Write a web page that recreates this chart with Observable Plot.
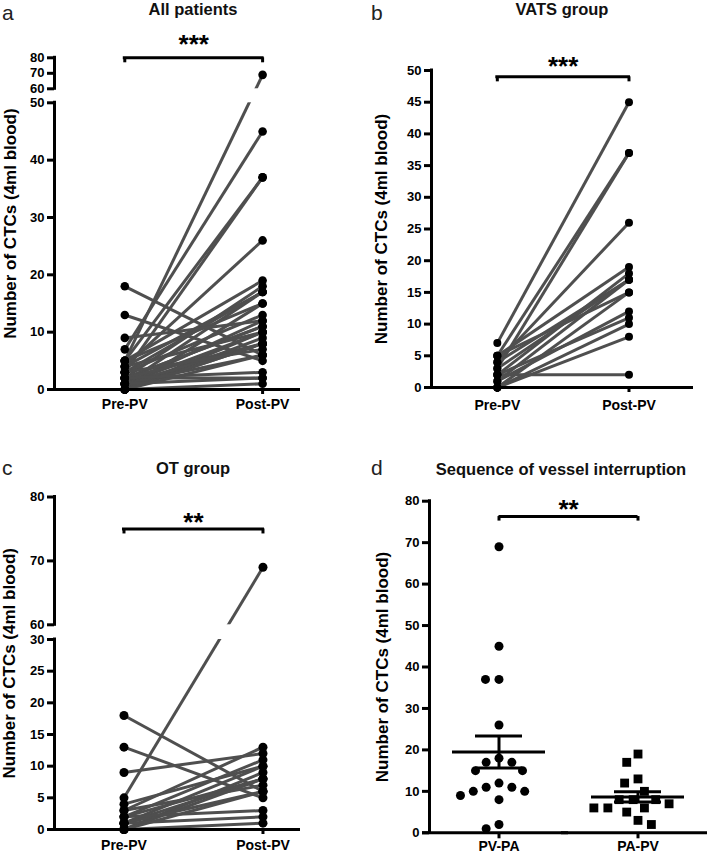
<!DOCTYPE html>
<html><head><meta charset="utf-8">
<script src="https://cdn.jsdelivr.net/npm/d3@7"></script>
<script src="https://cdn.jsdelivr.net/npm/@observablehq/plot@0.6"></script>
<style>
body{margin:0;background:#fff;font-family:"Liberation Sans",Arial,Helvetica,sans-serif;}
#root{position:relative;width:709px;height:855px;overflow:hidden;background:#fff;}
.panel{position:absolute;}
.letter{position:absolute;font-size:21px;line-height:1;color:#222;}
.title{position:absolute;font-size:16.5px;font-weight:bold;line-height:1;color:#111;transform:translateX(-50%);white-space:nowrap;}
</style></head><body><div id="root"></div>
<script>
// ---------- data ----------
const timeLabels = ["Pre-PV", "Post-PV"];
// VATS group (paired pre / post values)
const vatsPre  = [7, 5, 3, 4, 5, 2, 4, 1, 3, 5, 0, 1, 2, 0, 0, 2];
const vatsPost = [45, 37, 37, 26, 19, 18, 17, 17, 17, 15, 15, 12, 11, 10, 8, 2];
// OT group
const otPre  = [5, 18, 13, 9, 3, 4, 1, 2, 0, 2, 1, 0, 3, 1, 0, 2, 1, 0];
const otPost = [69, 6, 5, 12, 13, 10, 10, 11, 9, 8, 8, 8, 7, 6, 6, 3, 2, 1];
// All patients
const allPre  = vatsPre.concat(otPre);
const allPost = vatsPost.concat(otPost);
// Sequence of vessel interruption (post-PV counts)
const seqGroups = ["PV-PA", "PA-PV"];
const pvpaValues = [69, 45, 37, 37, 26, 18, 17, 17, 15, 15, 12, 11, 11, 10, 10, 9, 8, 2, 1];
const papvValues = [19, 17, 13, 12, 10, 8, 8, 8, 7, 6, 6, 6, 5, 3, 2];
const yLabel = "Number of CTCs (4ml blood)";
const titles = ["All patients", "VATS group", "OT group", "Sequence of vessel interruption"];
const letters = ["a", "b", "c", "d"];
const ticksA = [0, 10, 20, 30, 40, 50, 60, 70, 80];
const ticksB = [0, 5, 10, 15, 20, 25, 30, 35, 40, 45, 50];
const ticksC = [0, 5, 10, 15, 20, 25, 30, 60, 70, 80];
const ticksD = [0, 10, 20, 30, 40, 50, 60, 70, 80];

// ---------- styles ----------
const LINE = "#4f4f4f";
const FONT = '"Liberation Sans", Arial, Helvetica, sans-serif';
const baseStyle = {fontFamily: FONT, fontSize: "13px", fontWeight: "bold", color: "black", background: "transparent", overflow: "visible"};
const root = document.getElementById("root");

function put(node, left, top, w, h) {
  const div = document.createElement("div");
  div.className = "panel";
  div.style.left = left + "px"; div.style.top = top + "px";
  div.style.width = w + "px"; div.style.height = h + "px";
  div.appendChild(node);
  root.appendChild(div);
}

// broken-axis panels: T maps a value to its height (px) above the baseline, piecewise
function pairedPanel(c) {
  const T = d3.scaleLinear().domain(c.breaks).range(c.heights);
  const top = c.heights[c.heights.length - 1];
  const pairs = c.pre.map((p, i) => ({pre: p, post: c.post[i]}));
  const pts = pairs.flatMap(d => [{g: 0, v: d.pre}, {g: 1, v: d.post}]);
  const [x0, x1] = c.xDomain;
  const marks = [
    Plot.link(pairs, {x1: () => 0, x2: () => 1, y1: d => T(d.pre), y2: d => T(d.post), stroke: LINE, strokeWidth: 3})
  ];
  if (c.gap) marks.push(Plot.rect([c.gap], {x1: () => x0, x2: () => x1, y1: d => T(d[0]), y2: d => T(d[1]), fill: "white", insetLeft: 3}));
  marks.push(
    Plot.dot(pts, {x: "g", y: d => T(d.v), r: c.r, fill: "black"}),
    Plot.ruleY([0], {strokeWidth: 3, insetLeft: -7}),
    Plot.ruleX(c.segments, {x: () => x0, y1: d => T(d[0]), y2: d => T(d[1]), strokeWidth: 3, strokeLinecap: "square"}),
    Plot.axisY({ticks: c.ticks.map(T), tickFormat: u => String(Math.round(T.invert(u))), tickSize: 7, tickPadding: 3, strokeWidth: 3, label: null}),
    Plot.axisX({ticks: [0, 1], tickFormat: i => timeLabels[i], tickSize: 5, tickPadding: c.xPad, strokeWidth: 3, label: null, fontSize: 14}),
    Plot.ruleY([c.sig], {x1: () => 0, x2: () => 1, y: d => T(d.y), strokeWidth: 3, strokeLinecap: "square"}),
    Plot.ruleX([0, 1], {x: d => d, y1: () => T(c.sig.y), y2: () => T(c.sig.y) - 5, strokeWidth: 3}),
    Plot.text([c.sig], {x: () => 0.5, y: d => T(d.y), text: "label", fontSize: 26, fontWeight: "bold", dy: c.sig.dy}),
    Plot.text([yLabel], {frameAnchor: "left", text: d => d, rotate: -90, textAnchor: "middle", dx: c.labelDx, fontSize: 17, fontWeight: "bold"})
  );
  const svg = Plot.plot({
    width: c.width, height: c.height,
    marginLeft: c.mL, marginRight: c.mR, marginTop: c.height - c.mB - top, marginBottom: c.mB,
    x: {domain: c.xDomain},
    y: {domain: [0, top]},
    style: baseStyle,
    marks
  });
  put(svg, c.left, c.top, c.width, c.height);
}

pairedPanel({pre: allPre, post: allPost, left: 0, top: 0, width: 354, height: 430,
  mL: 54, mR: 54, mB: 41, xDomain: [-0.51, 1.275],
  breaks: [0, 50, 60, 80], heights: [0, 286.7, 300.7, 331.7],
  segments: [[0, 50], [60, 80]], gap: [50, 60], ticks: ticksA,
  sig: {y: 80, label: "***", dy: -13}, r: 4.3, labelDx: -44, xPad: 5});

pairedPanel({pre: vatsPre, post: vatsPost, left: 354, top: 0, width: 355, height: 430,
  mL: 77, mR: 16, mB: 43, xDomain: [-0.5, 1.49],
  breaks: [0, 50], heights: [0, 317],
  segments: [[0, 50]], gap: null, ticks: ticksB,
  sig: {y: 49, label: "***", dy: -10}, r: 4, labelDx: -50, xPad: 8});

pairedPanel({pre: otPre, post: otPost, left: 0, top: 430, width: 354, height: 425,
  mL: 54, mR: 54, mB: 26, xDomain: [-0.5, 1.27],
  breaks: [0, 30, 60, 80], heights: [0, 190, 204.7, 332.5],
  segments: [[0, 30], [60, 80]], gap: [30, 60], ticks: ticksC,
  sig: {y: 75, label: "**", dy: -6}, r: 4.5, labelDx: -45, xPad: 6});

// ---------- panel d ----------
const seqData = pvpaValues.map(v => ({g: seqGroups[0], v})).concat(papvValues.map(v => ({g: seqGroups[1], v})));
const stats = seqGroups.map(g => {
  const vals = seqData.filter(d => d.g === g).map(d => d.v);
  const m = d3.mean(vals), se = d3.deviation(vals) / Math.sqrt(vals.length);
  return {g, mean: m, lo: m - se, hi: m + se};
});
const sigD = {y: 76.3, drop: 1.1, label: "**", dy: -6.5};
const bracketHalves = [{g: seqGroups[0], a: 0, b: 1}, {g: seqGroups[1], a: -1, b: 0}];
const svgD = Plot.plot({
  width: 355, height: 425, marginLeft: 74, marginRight: 2, marginTop: 70.7, marginBottom: 22.7,
  fx: {domain: seqGroups, padding: 0, label: null},
  x: {domain: [-1, 1], axis: null},
  y: {domain: [0, 80]},
  style: baseStyle,
  marks: [
    Plot.ruleY([0], {strokeWidth: 3, insetLeft: -7}),
    Plot.dot(seqData.filter(d => d.g === seqGroups[0]), Plot.dodgeX({anchor: "middle", padding: 4.5}, {fx: "g", y: "v", r: 4.5, fill: "black"})),
    Plot.dot(seqData.filter(d => d.g === seqGroups[1]), Plot.dodgeX({anchor: "middle", padding: 4}, {fx: "g", y: "v", r: 5, symbol: "square", fill: "black"})),
    Plot.tickY(stats, {fx: "g", y: "mean", strokeWidth: 3, insetLeft: 23, insetRight: 23}),
    Plot.tickY(stats, {fx: "g", y: "lo", strokeWidth: 3, insetLeft: 46, insetRight: 46}),
    Plot.tickY(stats, {fx: "g", y: "hi", strokeWidth: 3, insetLeft: 46, insetRight: 46}),
    Plot.ruleX(stats, {fx: "g", x: () => 0, y1: "lo", y2: "hi", strokeWidth: 3}),
    Plot.ruleX([{g: seqGroups[0]}], {fx: "g", x: () => -1, y1: () => 0, y2: () => 80, strokeWidth: 3, strokeLinecap: "square"}),
    Plot.axisY({ticks: ticksD, tickSize: 7, tickPadding: 3, strokeWidth: 3, label: null}),
    Plot.axisFx({anchor: "bottom", tickSize: 6, tickPadding: 2, strokeWidth: 3, label: null, fontSize: 14}),
    Plot.ruleY(bracketHalves, {fx: "g", x1: "a", x2: "b", y: () => sigD.y, strokeWidth: 3}),
    Plot.ruleX(stats, {fx: "g", x: () => 0, y1: () => sigD.y, y2: () => sigD.y - sigD.drop, strokeWidth: 3}),
    Plot.text([{g: seqGroups[0]}], {fx: "g", x: () => 1, y: () => sigD.y, text: () => sigD.label, fontSize: 26, fontWeight: "bold", dy: sigD.dy}),
    Plot.text([{g: seqGroups[0]}], {fx: "g", frameAnchor: "left", text: () => yLabel, rotate: -90, textAnchor: "middle", dx: -47, fontSize: 17, fontWeight: "bold"})
  ]
});
put(svgD, 354, 430, 355, 425);

// ---------- letters & titles ----------
const letterPos = [[2, 2], [371, 2], [2, 457], [371, 457]];
const titlePos = [[193, 1], [562, 1], [193, 460], [561, 461]];
letters.forEach((t, i) => {
  const el = document.createElement("div");
  el.className = "letter"; el.textContent = t;
  el.style.left = letterPos[i][0] + "px"; el.style.top = letterPos[i][1] + "px";
  root.appendChild(el);
});
titles.forEach((t, i) => {
  const el = document.createElement("div");
  el.className = "title"; el.textContent = t;
  el.style.left = titlePos[i][0] + "px"; el.style.top = titlePos[i][1] + "px";
  root.appendChild(el);
});
</script></body></html>
